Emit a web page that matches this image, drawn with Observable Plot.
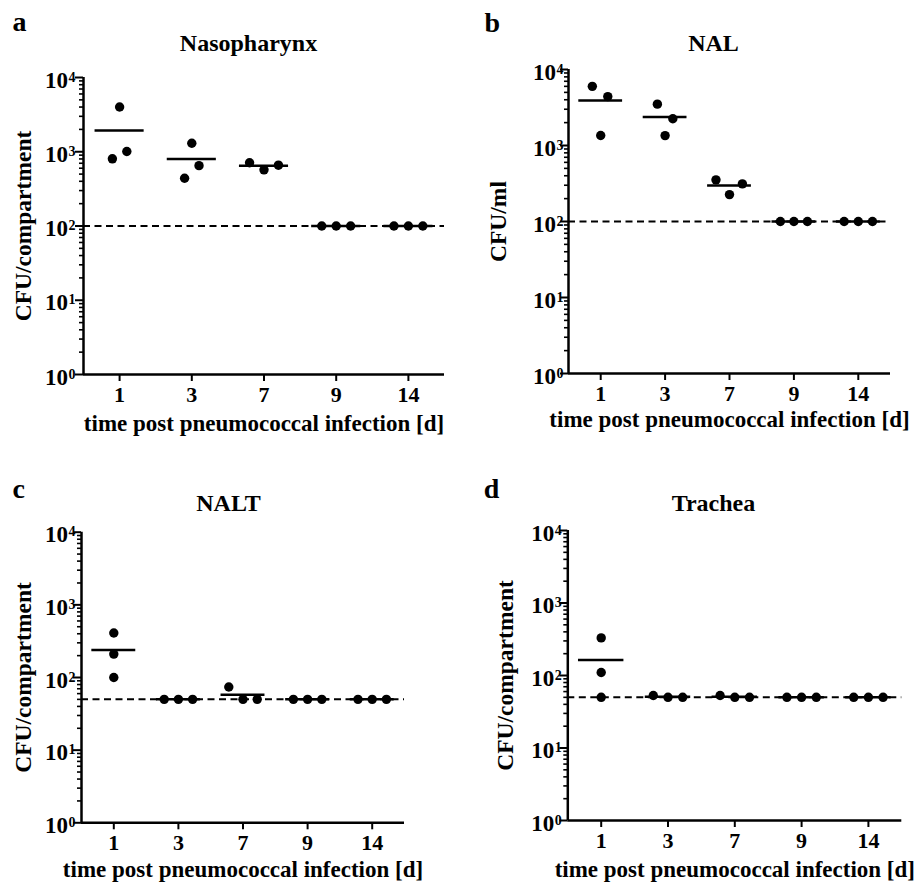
<!DOCTYPE html>
<html><head><meta charset="utf-8">
<script src="https://cdn.jsdelivr.net/npm/d3@7"></script>
<script src="https://cdn.jsdelivr.net/npm/@observablehq/plot@0.6"></script>
<style>
body{margin:0;background:#fff;}
#root{position:relative;width:917px;height:887px;background:#fff;overflow:hidden}
.panel{position:absolute}
.panel svg{overflow:visible}
</style></head><body><div id="root"></div>
<script>
// ---- data ----
const days = ["1", "3", "7", "9", "14"];
const decades = [1, 10, 100, 1000, 10000];
const exponents = ["0", "1", "2", "3", "4"];
const panelLetters = ["a", "b", "c", "d"];
const panelTitles = ["Nasopharynx", "NAL", "NALT", "Trachea"];
const yLabels = ["CFU/compartment", "CFU/ml", "CFU/compartment", "CFU/compartment"];
const xLabel = "time post pneumococcal infection [d]";
const detectionLimits = [100, 100, 50, 50];

// CFU per mouse (3 mice per day)
const nasopharynxValues = [[803, 4000, 1008], [440, 1300, 650], [710, 571, 659], [100, 100, 100], [100, 100, 100]];
const nalValues = [[6000, 1355, 4400], [3500, 1350, 2250], [353, 226, 313], [100, 100, 100], [100, 100, 100]];
const naltValues = [[410, 210, 100], [50, 50, 50], [74, 50, 50], [50, 50, 50], [50, 50, 50]];
const tracheaValues = [[330, 110, 50], [53, 50, 50], [53, 50, 50], [50, 50, 50], [50, 50, 50]];

// horizontal scatter of the dots within each day (in day-category units)
const nasopharynxJitter = [[-0.1, 0, 0.1], [-0.1, 0, 0.1], [-0.2, 0, 0.2], [-0.2, 0, 0.2], [-0.2, 0, 0.2]];
const nalJitter = [[-0.13, 0, 0.11], [-0.12, 0, 0.12], [-0.21, 0, 0.2], [-0.21, 0, 0.21], [-0.22, 0, 0.22]];
const naltJitter = [[0, 0, 0], [-0.22, 0, 0.22], [-0.22, 0, 0.22], [-0.22, 0, 0.22], [-0.22, 0, 0.22]];
const tracheaJitter = [[0, 0, 0], [-0.22, 0, 0.22], [-0.22, 0, 0.22], [-0.22, 0, 0.22], [-0.22, 0, 0.22]];

// ---- layout ----
const layouts = [
  {left: 0, top: 0, w: 458, h: 440, ml: 83, mr: 14, mt: 77, mb: 66,
   tdx: -15.5, tdy: -27, ldx: -71, ldy: -47, ydx: -53, xdy: 56, kdx: -14.5},
  {left: 458, top: 0, w: 459, h: 440, ml: 110, mr: 27, mt: 69, mb: 67,
   tdx: -16, tdy: -19, ldx: -84, ldy: -38, ydx: -63, xdy: 53.5, kdx: -11.5},
  {left: 0, top: 440, w: 458, h: 447, ml: 81, mr: 54, mt: 91.7, mb: 64.7,
   tdx: -14.5, tdy: -21.7, ldx: -69, ldy: -34.7, ydx: -51, xdy: 54, kdx: -12.5},
  {left: 458, top: 440, w: 459, h: 447, ml: 109.3, mr: 15.7, mt: 90, mb: 67,
   tdx: -21.3, tdy: -20, ldx: -84, ldy: -33, ydx: -55, xdy: 56.7, kdx: -12.5}
];
const allValues = [nasopharynxValues, nalValues, naltValues, tracheaValues];
const allJitter = [nasopharynxJitter, nalJitter, naltJitter, tracheaJitter];

const font = "'Liberation Serif','Times New Roman',serif";
const minorTicks = [];
for (let k = 0; k < 4; k++) for (let m = 2; m <= 9; m++) minorTicks.push(m * Math.pow(10, k));
const meanHalfWidth = 0.34;

function makePanel(p) {
  const cfg = layouts[p];
  const values = allValues[p];
  const jitter = allJitter[p];
  const points = [];
  values.forEach((vals, i) => vals.forEach((v, j) => points.push({x: i + jitter[i][j], y: v})));
  const means = values.map((vals, i) => ({i, m: d3.mean(vals)}));
  const txt = {fontFamily: font, fontWeight: "bold", fill: "#000"};
  return Plot.plot({
    width: cfg.w, height: cfg.h,
    marginLeft: cfg.ml, marginRight: cfg.mr, marginTop: cfg.mt, marginBottom: cfg.mb,
    x: {type: "linear", domain: [-0.5, 4.5]},
    y: {type: "log", domain: [1, 10000]},
    style: {fontFamily: font, fontWeight: "bold", color: "#000", background: "transparent"},
    marks: [
      Plot.ruleY([detectionLimits[p]], {stroke: "#000", strokeDasharray: "7,4.5", strokeWidth: 2}),
      Plot.ruleY(means, {y: "m", x1: d => d.i - meanHalfWidth, x2: d => d.i + meanHalfWidth, stroke: "#000", strokeWidth: 2.5}),
      Plot.dot(points, {x: "x", y: "y", r: 4.7, fill: "#000", stroke: "none"}),
      Plot.axisY({ticks: minorTicks, tickSize: 4, strokeWidth: 1.6, tickFormat: () => "", stroke: "#000", label: null}),
      Plot.axisY({ticks: decades, tickSize: 8, strokeWidth: 2, tickFormat: () => "", stroke: "#000", label: null}),
      Plot.text(decades, {y: d => d, frameAnchor: "left", text: () => "10", textAnchor: "end", lineAnchor: "bottom",
        dx: cfg.kdx - 1, dy: 10, fontSize: 23, ...txt}),
      Plot.text(decades, {y: d => d, frameAnchor: "left", text: (d, i) => exponents[i], textAnchor: "start", lineAnchor: "bottom",
        dx: cfg.kdx - 0.5, dy: 4, fontSize: 14, ...txt}),
      Plot.axisX({ticks: [0, 1, 2, 3, 4], tickFormat: i => days[i], tickSize: 7, tickPadding: 5, strokeWidth: 2,
        stroke: "#000", fontSize: 22, fontWeight: "bold", fontFamily: font, fill: "#000", label: null}),
      Plot.ruleX([-0.5], {stroke: "#000", strokeWidth: 2.5}),
      Plot.ruleY([1], {stroke: "#000", strokeWidth: 2.5}),
      Plot.text([panelTitles[p]], {frameAnchor: "top", dx: cfg.tdx, dy: cfg.tdy, lineAnchor: "bottom", fontSize: 24, ...txt}),
      Plot.text([panelLetters[p]], {frameAnchor: "top-left", dx: cfg.ldx, dy: cfg.ldy, textAnchor: "start", lineAnchor: "bottom", fontSize: 28, ...txt}),
      Plot.text([yLabels[p]], {frameAnchor: "left", rotate: -90, dx: cfg.ydx, textAnchor: "middle", lineAnchor: "bottom", fontSize: 23.5, ...txt}),
      Plot.text([xLabel], {frameAnchor: "bottom", dy: cfg.xdy, textAnchor: "middle", lineAnchor: "bottom", fontSize: 23, ...txt})
    ]
  });
}

const root = document.getElementById("root");
for (let p = 0; p < 4; p++) {
  const div = document.createElement("div");
  div.className = "panel";
  div.style.left = layouts[p].left + "px";
  div.style.top = layouts[p].top + "px";
  div.appendChild(makePanel(p));
  root.appendChild(div);
}
</script>
</body></html>
